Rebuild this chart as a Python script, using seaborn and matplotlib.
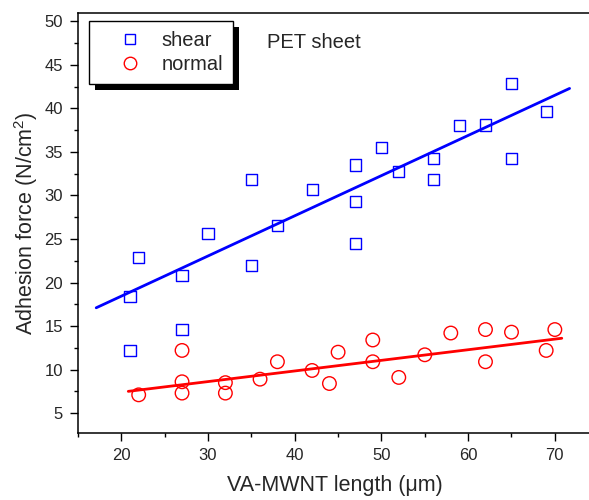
import numpy as np
import matplotlib
matplotlib.use("Agg")
import matplotlib.pyplot as plt
import seaborn as sns
from matplotlib.lines import Line2D
from matplotlib.patches import Rectangle
from matplotlib.ticker import MultipleLocator

# Donnees
shear_x = [21, 21, 22, 27, 27, 30, 35, 35, 38, 42, 47, 47, 47, 50, 52, 56, 56, 59, 62, 65, 65, 69]
shear_y = [18.4, 12.2, 22.9, 20.8, 14.6, 25.6, 31.8, 22.0, 26.6, 30.7, 33.5, 29.3, 24.5,
           35.5, 32.8, 34.3, 31.8, 38.0, 38.1, 42.9, 34.3, 39.6]

normal_x = [22, 27, 27, 27, 32, 32, 36, 38, 42, 44, 45, 49, 49, 52, 55, 58, 62, 62, 65, 69, 70]
normal_y = [7.1, 12.2, 8.6, 7.3, 8.5, 7.3, 8.9, 10.9, 9.9, 8.4, 12.0, 13.4, 10.9,
            9.1, 11.7, 14.2, 14.6, 10.9, 14.3, 12.2, 14.6]

# droites d'ajustement (extremites)
shear_fit_x = [17.1, 71.7]
shear_fit_y = [17.1, 42.3]
normal_fit_x = [20.8, 70.8]
normal_fit_y = [7.5, 13.6]

BLUE = "#0000ff"
RED = "#ff0000"


def main():
    sns.set_theme(style="ticks")
    plt.rcParams["font.family"] = ["Liberation Sans", "DejaVu Sans"]
    plt.rcParams["mathtext.fontset"] = "custom"
    plt.rcParams["mathtext.rm"] = "Liberation Sans"

    fig = plt.figure(figsize=(5.89, 5.00), dpi=100)
    ax = fig.add_axes([78 / 589, 1 - 432.7 / 500, 513 / 589, 420 / 500])

    sns.lineplot(x=shear_fit_x, y=shear_fit_y, color=BLUE, lw=2, ax=ax)
    sns.lineplot(x=normal_fit_x, y=normal_fit_y, color=RED, lw=2, ax=ax)

    sns.scatterplot(x=shear_x, y=shear_y, marker="s", s=64, facecolor="none",
                    edgecolor=BLUE, linewidth=1.0, ax=ax, zorder=3)
    sns.scatterplot(x=normal_x, y=normal_y, marker="o", s=95, facecolor="none",
                    edgecolor=RED, linewidth=1.0, ax=ax, zorder=3)

    ax.set_xlim(15, 74.17)
    ax.set_ylim(2.75, 51.0)
    ax.xaxis.set_major_locator(MultipleLocator(10))
    ax.xaxis.set_minor_locator(MultipleLocator(5))
    ax.yaxis.set_major_locator(MultipleLocator(5))
    ax.yaxis.set_minor_locator(MultipleLocator(2.5))
    ax.set_xticks([20, 30, 40, 50, 60, 70])
    ax.set_yticks([5, 10, 15, 20, 25, 30, 35, 40, 45, 50])
    ax.tick_params(which="major", direction="out", length=5.8, width=1.0,
                   labelsize=12, color="black", pad=5)
    ax.tick_params(which="minor", direction="out", length=3, width=1.0, color="black")
    for sp in ax.spines.values():
        sp.set_color("black")
        sp.set_linewidth(1.1)

    ax.set_xlabel("VA-MWNT length (\u03bcm)", fontsize=15.5, labelpad=9)
    ax.set_ylabel(r"Adhesion force (N/cm$^2$)", fontsize=15.5, labelpad=3)

    fig.text(267 / 589, 1 - 42 / 500, "PET sheet", fontsize=14.5, va="center")

    handles = [
        Line2D([], [], ls="none", marker="s", ms=7, mfc="none", mec=BLUE, mew=1.0),
        Line2D([], [], ls="none", marker="o", ms=9, mfc="none", mec=RED, mew=1.0),
    ]
    leg = ax.legend(handles, ["shear", "normal"], loc="upper left",
                    bbox_to_anchor=((89.3 - 78) / 513, 1 - (20.7 - 12.7) / 420),
                    borderaxespad=0, fontsize=14.5, frameon=True, fancybox=False,
                    edgecolor="black", framealpha=1, handlelength=3.0,
                    handletextpad=0.1, borderpad=0.5, labelspacing=0.25)
    leg.get_frame().set_linewidth(1.0)

    # ombre noire du cadre de legende
    fig.canvas.draw()
    bb = leg.get_frame().get_window_extent().transformed(ax.transAxes.inverted())
    dx = 6 / 513
    dy = 6 / 420
    ax.add_patch(Rectangle((bb.x0 + dx, bb.y0 - dy), bb.width, bb.height,
                           transform=ax.transAxes, facecolor="black",
                           edgecolor="none", zorder=4.9, clip_on=False))

    fig.savefig("out.png", dpi=100)
    plt.close(fig)


if __name__ == "__main__":
    main()
